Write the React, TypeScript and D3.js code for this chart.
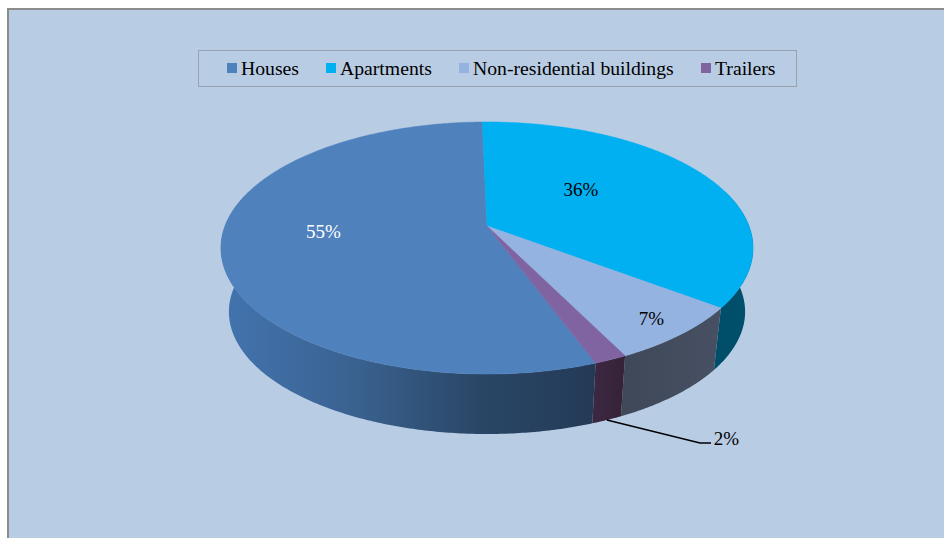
import React from 'react';
import * as d3 from 'd3';

const categories = ['Houses', 'Apartments', 'Non-residential buildings', 'Trailers'];
// measured off the slices, the printed labels are these rounded
const shares = [55.3, 35.6, 7.4, 1.7];
const topColors = ['#4f81bd', '#00b0f0', '#95b3e0', '#8064a2'];
// side wall shading runs left to right
const wallColors = [
  ['#4273ad', '#3a6291', '#2a4767', '#233a56'],
  ['#00435a', '#004f6b'],
  ['#3f4859', '#465062'],
  ['#3c2842', '#362338'],
];
const swatchX = [227, 326, 459, 701];
const textX = [241, 340, 473, 715];
const labelPos = [[323.5, 238], [581, 196], [651.5, 325], [726.5, 445]];
const labelFill = ['#fff', '#000', '#000', '#000'];

const W = 944, H = 538;
const cx = 487, cy = 226;
const rx = 262, ry = 122.2, persp = 0.1746;
const depth = 64.4, bottomScale = 0.97;
const startDeg = 159.72;

// unit circle -> screen with a bit of perspective, like the 3D pie in Excel
function project(theta: number, level: number): [number, number] {
  const u = Math.sin(theta), v = -Math.cos(theta);
  const w = 1 - persp * v;
  const s = level ? bottomScale : 1;
  return [cx + (rx * s * u) / w, cy + level * depth + (ry * s * v) / w];
}

function angles(a0: number, a1: number) {
  const n = Math.max(4, Math.ceil((a1 - a0) / 0.01));
  return d3.range(n + 1).map((i) => a0 + ((a1 - a0) * i) / n);
}

// wall as little quads so the silhouette gets the straight tangent bit at the sides
function wallPath(a0: number, a1: number) {
  const line = d3.line();
  const th = angles(a0, a1);
  let d = '';
  for (let i = 0; i < th.length - 1; i++) {
    if (-Math.cos(th[i]) < -0.3) continue; // back of the pie, hidden anyway
    d += line([project(th[i], 0), project(th[i + 1], 0), project(th[i + 1], 1), project(th[i], 1)]) + 'Z';
  }
  return d;
}

export default function App() {
  const arcs = d3.pie<number>().sort(null)
    .startAngle((startDeg * Math.PI) / 180)
    .endAngle((startDeg * Math.PI) / 180 + 2 * Math.PI)(shares);
  const line = d3.line();
  const trailerMid = (arcs[3].startAngle + arcs[3].endAngle) / 2;
  const leaderStart = project(trailerMid, 1);

  return (
    <svg width={W} height={H} style={{ position: 'fixed', left: 0, top: 0, background: '#fff' }}
      fontFamily="'Liberation Serif', serif">
      <defs>
        {arcs.map((a, i) => {
          const pts = angles(a.startAngle, a.endAngle).map((t) => project(t, 1));
          const xs = d3.extent(pts, (p) => p[0]) as [number, number];
          return (
            <linearGradient key={i} id={'wall' + i} gradientUnits="userSpaceOnUse"
              x1={xs[0]} x2={i === 0 ? 600 : xs[1]} y1={0} y2={0}>
              {wallColors[i].map((c, j) => (
                <stop key={j} offset={j / (wallColors[i].length - 1)} stopColor={c} />
              ))}
            </linearGradient>
          );
        })}
      </defs>
      <rect x={8} y={9} width={W + 10} height={H + 10} fill="#b8cce4" stroke="#8c8c8c" strokeWidth={2} />

      <rect x={198.5} y={50.5} width={598} height={36} fill="none" stroke="#98a1ad" />
      {categories.map((c, i) => (
        <g key={c}>
          <rect x={swatchX[i]} y={63} width={10} height={10} fill={topColors[i]} />
          <text x={textX[i]} y={75} fontSize={19.7} fill="#000">{c}</text>
        </g>
      ))}

      {arcs.map((a, i) => (
        <path key={i} d={wallPath(a.startAngle, a.endAngle)} fill={`url(#wall${i})`} />
      ))}
      {arcs.map((a, i) => {
        const top = angles(a.startAngle, a.endAngle).map((t) => project(t, 0));
        return <path key={i} d={line([[cx, cy], ...top]) + 'Z'} fill={topColors[i]} stroke={topColors[i]} strokeWidth={0.5} />;
      })}

      <path d={line([leaderStart, [700, 443], [711, 443]]) ?? ''} fill="none" stroke="#000" strokeWidth={1.5} />
      {shares.map((s, i) => (
        <text key={i} x={labelPos[i][0]} y={labelPos[i][1]} fontSize={19} textAnchor="middle" fill={labelFill[i]}>
          {Math.round(s)}%
        </text>
      ))}
    </svg>
  );
}
